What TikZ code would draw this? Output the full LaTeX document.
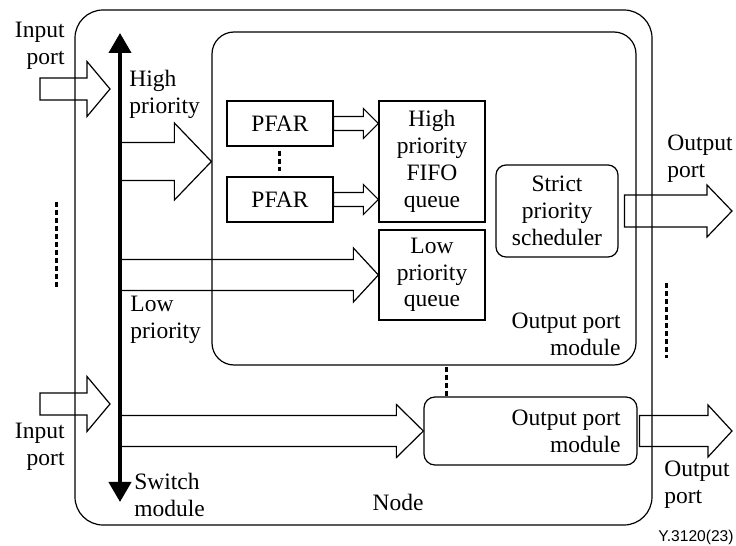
\documentclass[tikz,border=0pt]{standalone}
\usepackage{fontspec}
\setmainfont{Liberation Serif}
\newfontfamily\tagfont{Liberation Sans}
\usetikzlibrary{arrows.meta,calc}

\newcommand{\fatarrow}[5]{%
  \draw[hollow] let \p1=(#1), \p2=(#2) in
    (\x1,\y1+#3) -- (\x2-#5,\y1+#3) -- (\x2-#5,\y1+#4) -- (\x2,\y1)
    -- (\x2-#5,\y1-#4) -- (\x2-#5,\y1-#3) -- (\x1,\y1-#3) -- cycle;}

\begin{document}
\begin{tikzpicture}[x=0.5pt,y=-0.5pt,font=\fontsize{11.75pt}{13.4pt}\selectfont]
       \tikzstyle{box}=[draw, line width=0.6pt, inner sep=0pt, align=center]
       \tikzstyle{module}=[box, rounded corners=11pt]
       \tikzstyle{txt}=[inner sep=0pt, align=left]
       \tikzstyle{hollow}=[draw, line width=0.6pt]
       \tikzstyle{dots}=[line width=1.5pt, dash pattern=on 2.5pt off 1.5pt]
       \useasboundingbox (0,0) rectangle (736,546);
       \node[module, rounded corners=14pt, minimum width=288.5pt, minimum height=257.5pt] (nodebox) at (363.5,267.5) {};
       \node[module, minimum width=212pt, minimum height=166.5pt] (opm) at (424,198.5) {};
       \node[module, rounded corners=5.5pt, minimum width=106.5pt, minimum height=34pt] (opm2) at (530.5,431) {};
       \node[box, minimum width=53pt, minimum height=22.5pt] (pfar1) at (280,123.5) {PFAR};
       \node[box, minimum width=53pt, minimum height=22.5pt] (pfar2) at (280,199.5) {PFAR};
       \node[box, minimum width=53pt, minimum height=60.5pt] (hfifo) at (432,161.5) {High\\priority\\FIFO\\queue};
       \node[box, minimum width=53pt, minimum height=45pt] (lowq) at (432,275) {Low\\priority\\queue};
       \node[box, rounded corners=5pt, minimum width=61pt, minimum height=46pt] (sched) at (557,211) {Strict\\priority\\scheduler};
       \node[txt, anchor=east, align=right] (opmtxt) at (621,334) {Output port\\module};
       \node[txt, anchor=east, align=right] (opm2txt) at (621,431) {Output port\\module};
       \node[txt, anchor=east, align=right] (in1txt) at (65,46) {Input\\port};
       \node[txt, anchor=east, align=right] (in2txt) at (65,447) {Input\\port};
       \node[txt, anchor=west] (hitxt) at (129,94) {High\\priority};
       \node[txt, anchor=west] (lowtxt) at (130,320) {Low\\priority};
       \node[txt, anchor=west] (swtxt) at (134,495) {Switch\\module};
       \node[txt] (nodetxt) at (398,502) {Node};
       \node[txt, anchor=west] (out1txt) at (667,159) {Output\\port};
       \node[txt, anchor=west] (out2txt) at (664,485) {Output\\port};
       \node[txt, anchor=east, font=\tagfont\fontsize{7.8pt}{9pt}\selectfont] (tag) at (734,537) {Y.3120(23)};
       \coordinate (swtop) at (120,33);
       \coordinate (swbot) at (120,502);
       \coordinate (in1) at (40,89);
       \coordinate (in1tip) at (110,89);
       \coordinate (in2) at (40,404);
       \coordinate (in2tip) at (110,404);
       \coordinate (out1tip) at (732,211);
       \coordinate (out2tip) at (732,431);
       \fatarrow{in1}{in1tip}{5.5pt}{13.75pt}{11.5pt}
       \fatarrow{in2}{in2tip}{5.5pt}{13.75pt}{11.5pt}
       \fatarrow{swtop |- hfifo}{opm.west |- hfifo}{9.5pt}{19.25pt}{18.5pt}
       \fatarrow{swtop |- lowq}{lowq.west}{7.75pt}{13.5pt}{12.5pt}
       \fatarrow{swtop |- opm2}{opm2.west}{7.75pt}{13.25pt}{13.5pt}
       \fatarrow{pfar1.east}{hfifo.west |- pfar1.east}{3.5pt}{7.5pt}{7.5pt}
       \fatarrow{pfar2.east}{hfifo.west |- pfar2.east}{3.5pt}{7.5pt}{7.5pt}
       \fatarrow{$(sched.east)+(6,0)$}{out1tip}{8pt}{13pt}{12.5pt}
       \fatarrow{$(opm2.east)+(2,0)$}{out2tip}{7.75pt}{13pt}{12pt}
       \draw[line width=2pt, {Triangle[width=11pt,length=10pt]}-{Triangle[width=11pt,length=10pt]}] (swtop) -- (swbot);
       \draw[dots] ($(pfar1.south)+(0,4)$) -- ($(pfar2.north)+(0,-5)$);
       \draw[dots] ($(opm2.north west)+(23,0)$) -- ($(opm2.north west)+(23,-32)$);
       \draw[dots] (57,202) -- (57,288);
       \draw[dots] (667,283) -- (667,358);
      \end{tikzpicture}
\end{document}
